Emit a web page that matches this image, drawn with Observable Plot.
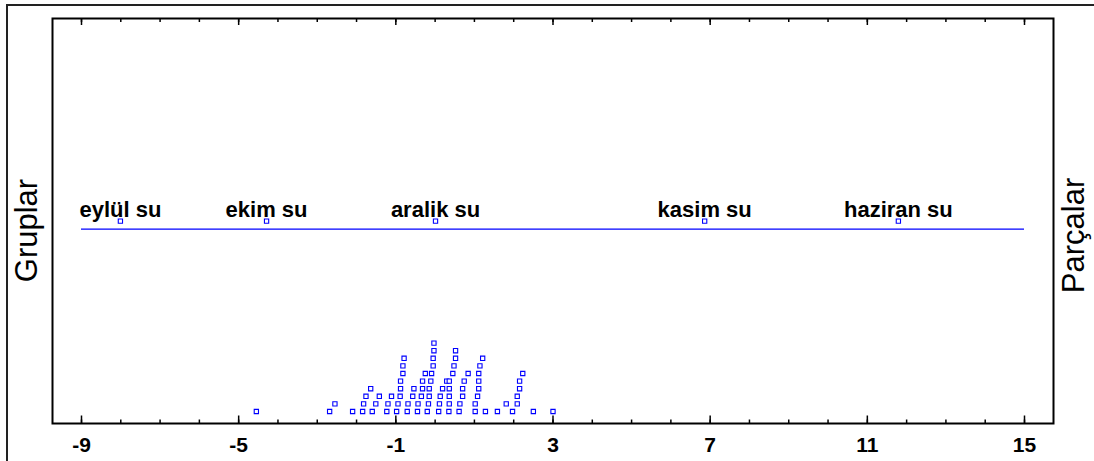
<!DOCTYPE html>
<html><head><meta charset="utf-8">
<script src="https://cdn.jsdelivr.net/npm/d3@7"></script>
<script src="https://cdn.jsdelivr.net/npm/@observablehq/plot@0.6"></script>
<style>
html,body{margin:0;padding:0;background:#fff;overflow:hidden;}
#wrap{position:relative;width:1094px;height:461px;overflow:hidden;}
#chart{position:absolute;left:0;top:0;}
#outer{position:absolute;left:6px;top:4px;width:2000px;height:2000px;border-left:2px solid #222;border-top:2px solid #222;pointer-events:none;}
svg{display:block;}
</style></head><body>
<div id="wrap"><div id="chart"></div><div id="outer"></div></div>
<script>
// ---- data ----
const xDomain = [-9, 15];
const minorTicks = [-9,-8,-7,-6,-5,-4,-3,-2,-1,0,1,2,3,4,5,6,7,8,9,10,11,12,13,14,15];
const majorTicks = [-9, -5, -1, 3, 7, 11, 15];
const groupNames = ["eylül su", "ekim su", "aralik su", "kasim su", "haziran su"];
const groupMeans = [-8.01, -4.29, 0.01, 6.86, 11.79];
const groupRow = 24;
const leftTitle = "Gruplar";
const rightTitle = "Parçalar";
// each inner list = one stacked column of observations (bottom to top)
const dotColumns = [
  [-4.55],
  [-2.685, -2.55],
  [-2.10],
  [-1.845, -1.82, -1.76, -1.64],
  [-1.60, -1.51, -1.42],
  [-1.23, -1.20, -1.11],
  [-0.98, -0.945, -0.89, -0.88, -0.88, -0.82, -0.82, -0.79],
  [-0.71, -0.69, -0.57, -0.54],
  [-0.45, -0.435, -0.35, -0.32, -0.32, -0.25],
  [-0.20, -0.17, -0.15, -0.15, -0.11, -0.09, -0.05, -0.05, -0.03, -0.03],
  [0.09, 0.11, 0.13, 0.19, 0.295],
  [0.35, 0.36, 0.36, 0.36, 0.36, 0.45, 0.48, 0.52, 0.52],
  [0.61, 0.63, 0.70, 0.70, 0.74, 0.84],
  [1.02, 1.02, 1.08, 1.11, 1.11, 1.11, 1.14, 1.21],
  [1.28],
  [1.585, 1.81],
  [1.97, 2.09, 2.09, 2.15, 2.15, 2.23],
  [2.50],
  [3.00]
];

// ---- derived tables ----
const points = dotColumns.flatMap(col => col.map((v, i) => ({value: v, level: i})));
const groupData = groupNames.map((name, i) => ({name, value: groupMeans[i], row: groupRow}));

const W = 1094, H = 461, mT = 18, mB = 38, innerH = H - mT - mB;
const blue = "#0000ff";
const font = "'Liberation Sans', Arial, Helvetica, sans-serif";

const chart = Plot.plot({
  width: W, height: H,
  marginLeft: 52, marginRight: 41, marginTop: mT, marginBottom: mB,
  style: {fontFamily: font, color: "black", background: "white", overflow: "visible"},
  x: {domain: xDomain, range: [81, 1024], axis: null},
  y: {domain: [0, 50], range: [411, 31], axis: null},
  marks: [
    // ticks (inward)
    Plot.ruleX(minorTicks, {x: d => d, insetTop: innerH - 3.5, stroke: "black", strokeWidth: 1.5}),
    Plot.ruleX(majorTicks, {x: d => d, insetTop: innerH - 7.5, stroke: "black", strokeWidth: 1.5}),
    Plot.ruleX(minorTicks, {x: d => d, insetBottom: innerH - 4, stroke: "black", strokeWidth: 1.5}),
    Plot.ruleX(majorTicks, {x: d => d, insetBottom: innerH - 7, stroke: "black", strokeWidth: 1.5}),
    Plot.text(majorTicks, {x: d => d, text: d => String(d), frameAnchor: "bottom", dy: 14,
      lineAnchor: "top", fontSize: 21, fontWeight: "bold", fill: "black"}),
    Plot.frame({stroke: "black", strokeWidth: 2}),
    // group line, means and labels
    Plot.ruleY([groupRow], {y: d => d, x1: xDomain[0], x2: xDomain[1], stroke: blue, strokeWidth: 1.3}),
    Plot.dot(groupData, {x: "value", y: "row", dy: -8, symbol: "square", r: 2.4,
      stroke: blue, strokeWidth: 1.1, fill: "white"}),
    Plot.text(groupData, {x: "value", y: "row", text: "name", dy: -12, lineAnchor: "bottom",
      fontSize: 22, fontWeight: "bold", fill: "black"}),
    // stacked observations
    Plot.dot(points, {x: "value", y: "level", symbol: "square", r: 2.4,
      stroke: blue, strokeWidth: 1.1, fill: "white"}),
    // side titles
    Plot.text([leftTitle], {text: d => d, frameAnchor: "left", textAnchor: "middle", dx: -25, dy: 9.5,
      rotate: -90, fontSize: 31, fill: "black"}),
    Plot.text([rightTitle], {text: d => d, frameAnchor: "right", textAnchor: "middle", dx: 21, dy: 14.5,
      rotate: -90, fontSize: 31, fill: "black"})
  ]
});
document.getElementById("chart").appendChild(chart);
</script>
</body></html>
